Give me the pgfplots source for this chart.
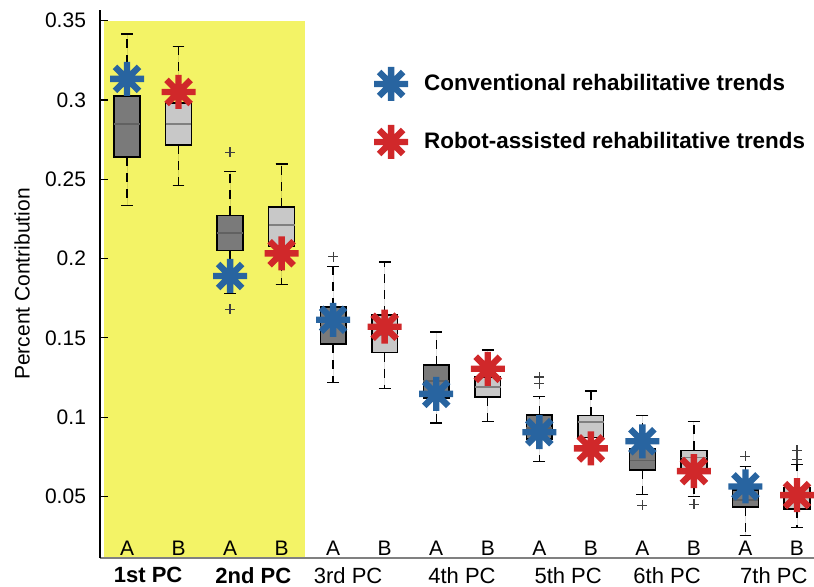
\documentclass[border=0pt]{standalone}
\usepackage{pgfplots}
\pgfplotsset{compat=1.18}
\usepgfplotslibrary{statistics}
\usepackage{fontspec}
\setmainfont{Liberation Sans}
\setsansfont{Liberation Sans}
\definecolor{yellowbg}{RGB}{243,243,102}
\definecolor{darkbox}{RGB}{122,122,122}
\definecolor{lightbox}{RGB}{200,200,200}
\definecolor{starblue}{RGB}{40,100,160}
\definecolor{starred}{RGB}{208,40,42}
\pgfdeclareplotmark{ast8}{%
  \pgfpathmoveto{\pgfpoint{0pt}{\pgfplotmarksize}}\pgfpathlineto{\pgfpoint{0pt}{-\pgfplotmarksize}}%
  \pgfpathmoveto{\pgfpoint{\pgfplotmarksize}{0pt}}\pgfpathlineto{\pgfpoint{-\pgfplotmarksize}{0pt}}%
  \pgfpathmoveto{\pgfpoint{0.7071\pgfplotmarksize}{0.7071\pgfplotmarksize}}\pgfpathlineto{\pgfpoint{-0.7071\pgfplotmarksize}{-0.7071\pgfplotmarksize}}%
  \pgfpathmoveto{\pgfpoint{-0.7071\pgfplotmarksize}{0.7071\pgfplotmarksize}}\pgfpathlineto{\pgfpoint{0.7071\pgfplotmarksize}{-0.7071\pgfplotmarksize}}%
  \pgfusepathqstroke}
\pgfplotsset{
  dbox/.style={draw=black, line width=0.75pt, fill=darkbox, mark=+, mark size=2.5pt, mark options={black!75, solid, line width=0.6pt}, forget plot, boxplot/every median/.style={black!62, line width=0.9pt}},
  lbox/.style={draw=black, line width=0.75pt, fill=lightbox, mark=+, mark size=2.5pt, mark options={black!75, solid, line width=0.6pt}, forget plot, boxplot/every median/.style={black!50, line width=0.9pt}},
}
\begin{document}
\begin{tikzpicture}
\begin{axis}[
  scale only axis,
  width=357pt, height=274pt,
  xmin=0.476, xmax=14.33,
  ymin=0.0112, ymax=0.3567,
  axis on top,
  axis x line=bottom, axis y line=left,
  axis line style={-},
  x axis line style={black!50, line width=1pt},
  y axis line style={black, line width=0.6pt},
  tick align=inside,
  xtick={1,...,14},
  xticklabels={A,B,A,B,A,B,A,B,A,B,A,B,A,B},
  xtick style={draw=none},
  xticklabel style={anchor=base, yshift=1pt, font=\fontsize{10.5}{12}\selectfont},
  ytick={0.05,0.1,0.15,0.2,0.25,0.3,0.35},
  scaled y ticks=false,
  yticklabel style={/pgf/number format/fixed, /pgf/number format/precision=2, font=\fontsize{10.5}{12}\selectfont, xshift=-3.5pt},
  /pgf/number format/assume math mode=true,
  ytick style={black, line width=0.6pt},
  major tick length=4pt,
  ylabel={Percent Contribution},
  ylabel style={at={(axis description cs:-0.109,0.5)}, anchor=center, font=\fontsize{10.5}{12}\selectfont},
  clip=false,
  boxplot/draw direction=y,
  boxplot/every whisker/.style={black, line width=0.7pt, dash pattern=on 4.5pt off 3.5pt},
  boxplot/draw/lower whisker/.code={
    \draw[/pgfplots/boxplot/every whisker/.try] (boxplot box cs:\pgfplotsboxplotvalue{lower quartile},0.5) -- (boxplot box cs:\pgfplotsboxplotvalue{lower whisker},0.5);
    \draw[black, line width=0.7pt, solid] (boxplot whisker cs:\pgfplotsboxplotvalue{lower whisker},0) -- (boxplot whisker cs:\pgfplotsboxplotvalue{lower whisker},1);
  },
  boxplot/draw/upper whisker/.code={
    \draw[/pgfplots/boxplot/every whisker/.try] (boxplot box cs:\pgfplotsboxplotvalue{upper quartile},0.5) -- (boxplot box cs:\pgfplotsboxplotvalue{upper whisker},0.5);
    \draw[black, line width=0.7pt, solid] (boxplot whisker cs:\pgfplotsboxplotvalue{upper whisker},0) -- (boxplot whisker cs:\pgfplotsboxplotvalue{upper whisker},1);
  },
  legend cell align=left,
  legend style={at={(rel axis cs:0.375,0.904)}, anchor=north west, draw=none, fill=none,
    font=\fontsize{11.2}{13}\selectfont\bfseries, row sep=12pt},
]
\fill[yellowbg] (axis cs:0.554,0.0112) rectangle (axis cs:4.45,0.35);

% 1st PC
\addplot[dbox, boxplot prepared={draw position=1, lower whisker=0.2335, lower quartile=0.2639, median=0.2848, upper quartile=0.3025, upper whisker=0.3416, box extend=0.5, whisker extend=0.23}] coordinates {};
\addplot[lbox, boxplot prepared={draw position=2, lower whisker=0.246, lower quartile=0.2715, median=0.285, upper quartile=0.298, upper whisker=0.3337, box extend=0.5, whisker extend=0.23}] coordinates {};
% 2nd PC
\addplot[dbox, boxplot prepared={draw position=3, lower whisker=0.178, lower quartile=0.205, median=0.216, upper quartile=0.2272, upper whisker=0.255, box extend=0.5, whisker extend=0.23}] table[row sep=\\, y index=0] {data\\ 0.267\\ 0.168\\};
\addplot[lbox, boxplot prepared={draw position=4, lower whisker=0.1835, lower quartile=0.2076, median=0.221, upper quartile=0.2325, upper whisker=0.2597, box extend=0.5, whisker extend=0.23}] coordinates {};
% 3rd PC
\addplot[dbox, boxplot prepared={draw position=5, lower whisker=0.122, lower quartile=0.146, median=0.157, upper quartile=0.1696, upper whisker=0.195, box extend=0.5, whisker extend=0.23}] table[row sep=\\, y index=0] {data\\ 0.2012\\};
\addplot[lbox, boxplot prepared={draw position=6, lower whisker=0.118, lower quartile=0.1406, median=0.152, upper quartile=0.1645, upper whisker=0.1977, box extend=0.5, whisker extend=0.23}] coordinates {};
% 4th PC
\addplot[dbox, boxplot prepared={draw position=7, lower whisker=0.0963, lower quartile=0.112, median=0.123, upper quartile=0.133, upper whisker=0.1538, box extend=0.5, whisker extend=0.23}] coordinates {};
\addplot[lbox, boxplot prepared={draw position=8, lower whisker=0.0974, lower quartile=0.1126, median=0.119, upper quartile=0.1253, upper whisker=0.1424, box extend=0.5, whisker extend=0.23}] coordinates {};
% 5th PC
\addplot[dbox, boxplot prepared={draw position=9, lower whisker=0.0721, lower quartile=0.0862, median=0.093, upper quartile=0.1012, upper whisker=0.113, box extend=0.5, whisker extend=0.23}] table[row sep=\\, y index=0] {data\\ 0.1253\\ 0.121\\};
\addplot[lbox, boxplot prepared={draw position=10, lower whisker=0.076, lower quartile=0.0873, median=0.0968, upper quartile=0.101, upper whisker=0.1164, box extend=0.5, whisker extend=0.23}] coordinates {};
% 6th PC
\addplot[dbox, boxplot prepared={draw position=11, lower whisker=0.0514, lower quartile=0.0666, median=0.0727, upper quartile=0.0803, upper whisker=0.1012, box extend=0.5, whisker extend=0.23}] table[row sep=\\, y index=0] {data\\ 0.0443\\};
\addplot[lbox, boxplot prepared={draw position=12, lower whisker=0.05, lower quartile=0.067, median=0.0746, upper quartile=0.079, upper whisker=0.0974, box extend=0.5, whisker extend=0.23}] table[row sep=\\, y index=0] {data\\ 0.0451\\};
% 7th PC
\addplot[dbox, boxplot prepared={draw position=13, lower whisker=0.0255, lower quartile=0.0433, median=0.048, upper quartile=0.054, upper whisker=0.069, box extend=0.5, whisker extend=0.23}] table[row sep=\\, y index=0] {data\\ 0.0753\\};
\addplot[lbox, boxplot prepared={draw position=14, lower whisker=0.0303, lower quartile=0.042, median=0.05, upper quartile=0.0557, upper whisker=0.07, box extend=0.5, whisker extend=0.23}] table[row sep=\\, y index=0] {data\\ 0.079\\ 0.0734\\};

% stars
\addplot[only marks, mark=ast8, mark size=8.5pt, mark options={draw=starblue, line width=3.2pt}]
  coordinates {(1,0.3133) (3,0.189) (5,0.1614) (7,0.1147) (9,0.0905) (11,0.0848) (13,0.0563)};
\addlegendentry{\hspace*{6pt}Conventional rehabilitative trends}
\addplot[only marks, mark=ast8, mark size=8.5pt, mark options={draw=starred, line width=3.2pt}]
  coordinates {(2,0.305) (4,0.2033) (6,0.157) (8,0.1305) (10,0.0803) (12,0.066) (14,0.0508)};
\addlegendentry{\hspace*{6pt}Robot-assisted rehabilitative trends}

% group labels
\begin{scope}[every node/.style={anchor=north, font=\fontsize{11}{12}\selectfont, inner sep=0pt, yshift=-4.5pt}]
\node at (axis cs:1.41,0.0112) {\textbf{1st PC}};
\node at (axis cs:3.45,0.0112) {\textbf{2nd PC}};
\node at (axis cs:5.29,0.0112) {3rd PC};
\node at (axis cs:7.5,0.0112) {4th PC};
\node at (axis cs:9.56,0.0112) {5th PC};
\node at (axis cs:11.48,0.0112) {6th PC};
\node at (axis cs:13.55,0.0112) {7th PC};
\end{scope}
\end{axis}
\pgfresetboundingbox
\path[use as bounding box] ([xshift=-50pt,yshift=-14.5pt]current axis.south west) rectangle ([yshift=5pt]current axis.north east);
\end{tikzpicture}
\end{document}
